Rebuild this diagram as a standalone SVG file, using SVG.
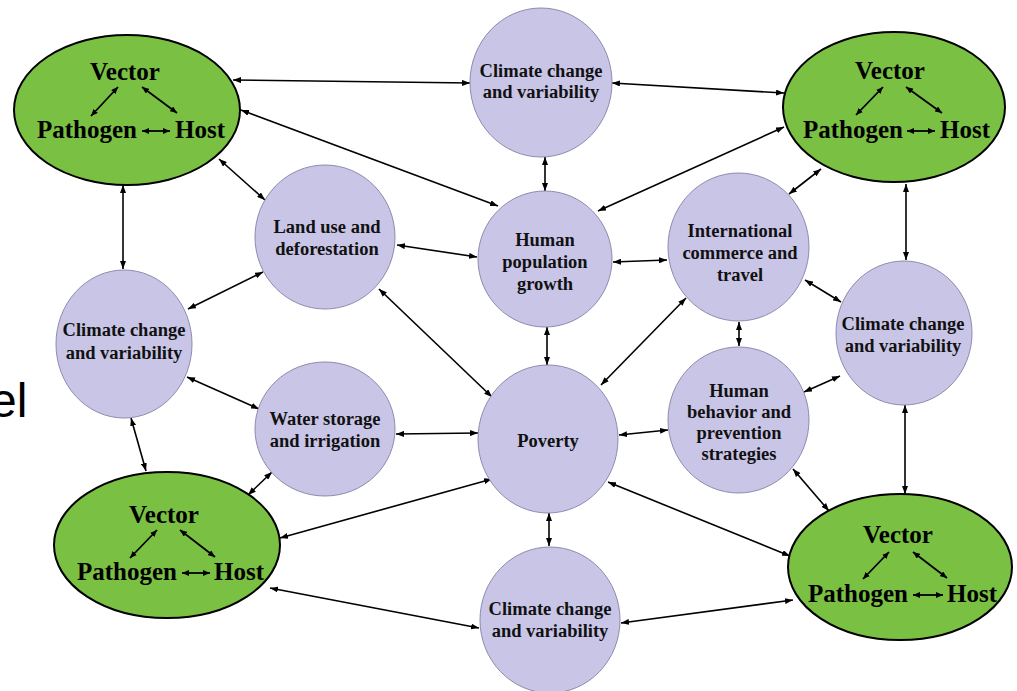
<svg xmlns="http://www.w3.org/2000/svg" width="1017" height="691" viewBox="0 0 1017 691">
<defs>
<marker id="ah" viewBox="0 0 8 6" markerUnits="userSpaceOnUse" markerWidth="8" markerHeight="6" refX="8" refY="3" orient="auto-start-reverse">
<path d="M0,0 L8,3 L0,6 z" fill="#000"/>
</marker>
<marker id="ahs" viewBox="0 0 7 6" markerUnits="userSpaceOnUse" markerWidth="7" markerHeight="6" refX="7" refY="3" orient="auto-start-reverse">
<path d="M0,0 L7,3 L0,6 z" fill="#000"/>
</marker>
</defs>
<style>
.g{fill:#7ac143;stroke:#000;stroke-width:2}
.p{fill:#c9c5e7;stroke:#8e8aae;stroke-width:1}
.gt{font-family:"Liberation Serif","Times New Roman",serif;font-weight:bold;font-size:25px;fill:#000}
.pt{font-family:"Liberation Serif","Times New Roman",serif;font-weight:bold;font-size:18.5px;fill:#111;text-anchor:middle}
.c{stroke:#000;stroke-width:1.6;fill:none;marker-start:url(#ah);marker-end:url(#ah)}
.ci{stroke:#000;stroke-width:1.8;fill:none;marker-start:url(#ahs);marker-end:url(#ahs)}
.s{font-family:"Liberation Sans",Arial,sans-serif;font-size:48px;fill:#000}
</style>
<rect width="1017" height="691" fill="#fff"/>
<text class="s" x="-10" y="417">el</text>
<g id="connectors">
<line class="c" x1="233" y1="80" x2="470" y2="83"/>
<line class="c" x1="612" y1="83" x2="784" y2="93"/>
<line class="c" x1="241" y1="110" x2="498" y2="206"/>
<line class="c" x1="219" y1="159" x2="265" y2="200"/>
<line class="c" x1="598" y1="211" x2="784" y2="127"/>
<line class="c" x1="789" y1="194" x2="821" y2="169"/>
<line class="c" x1="545" y1="157" x2="545" y2="191"/>
<line class="c" x1="397" y1="245" x2="477" y2="257"/>
<line class="c" x1="613" y1="262" x2="667" y2="260"/>
<line class="c" x1="263" y1="272" x2="188" y2="309"/>
<line class="c" x1="123" y1="185" x2="123" y2="269"/>
<line class="c" x1="187" y1="377" x2="259" y2="409"/>
<line class="c" x1="131" y1="418" x2="146" y2="471"/>
<line class="c" x1="272" y1="472" x2="248" y2="495"/>
<line class="c" x1="396" y1="434" x2="478" y2="433"/>
<line class="c" x1="547" y1="327" x2="547" y2="365"/>
<line class="c" x1="379" y1="289" x2="492" y2="397"/>
<line class="c" x1="686" y1="298" x2="601" y2="385"/>
<line class="c" x1="739" y1="322" x2="739" y2="346"/>
<line class="c" x1="805" y1="280" x2="841" y2="302"/>
<line class="c" x1="906" y1="184" x2="906" y2="260"/>
<line class="c" x1="619" y1="435" x2="668" y2="430"/>
<line class="c" x1="804" y1="392" x2="840" y2="376"/>
<line class="c" x1="905" y1="405" x2="905" y2="494"/>
<line class="c" x1="793" y1="469" x2="829" y2="511"/>
<line class="c" x1="608" y1="482" x2="790" y2="556"/>
<line class="c" x1="492" y1="479" x2="280" y2="538"/>
<line class="c" x1="549" y1="513" x2="549" y2="546"/>
<line class="c" x1="270" y1="588" x2="479" y2="628"/>
<line class="c" x1="621" y1="623" x2="793" y2="600"/>
</g>
<g id="host-tl">
<ellipse class="g" cx="127" cy="110" rx="113" ry="75"/>
<text class="gt" x="125" y="80" text-anchor="middle">Vector</text>
<text class="gt" x="137" y="138" text-anchor="end">Pathogen</text>
<text class="gt" x="175" y="138">Host</text>
<line class="ci" x1="118" y1="87" x2="91" y2="116"/>
<line class="ci" x1="142" y1="87" x2="177" y2="113"/>
<line class="ci" x1="142" y1="131" x2="170" y2="131"/>
</g>
<g id="host-tr">
<ellipse class="g" cx="894" cy="107" rx="111" ry="75"/>
<text class="gt" x="890" y="79" text-anchor="middle">Vector</text>
<text class="gt" x="903" y="138" text-anchor="end">Pathogen</text>
<text class="gt" x="940" y="138">Host</text>
<line class="ci" x1="883" y1="87" x2="856" y2="115"/>
<line class="ci" x1="906" y1="87" x2="942" y2="113"/>
<line class="ci" x1="907" y1="131" x2="935" y2="131"/>
</g>
<g id="host-bl">
<ellipse class="g" cx="167" cy="545" rx="113" ry="73"/>
<text class="gt" x="164" y="523" text-anchor="middle">Vector</text>
<text class="gt" x="177" y="580" text-anchor="end">Pathogen</text>
<text class="gt" x="214" y="580">Host</text>
<line class="ci" x1="157" y1="530" x2="130" y2="558"/>
<line class="ci" x1="180" y1="530" x2="215" y2="557"/>
<line class="ci" x1="182" y1="573" x2="210" y2="573"/>
</g>
<g id="host-br">
<ellipse class="g" cx="900" cy="567" rx="112" ry="73"/>
<text class="gt" x="898" y="543" text-anchor="middle">Vector</text>
<text class="gt" x="908" y="602" text-anchor="end">Pathogen</text>
<text class="gt" x="947" y="602">Host</text>
<line class="ci" x1="889" y1="552" x2="863" y2="579"/>
<line class="ci" x1="913" y1="552" x2="947" y2="578"/>
<line class="ci" x1="913" y1="595" x2="943" y2="595"/>
</g>
<g id="climate-top">
<ellipse class="p" cx="541" cy="82.5" rx="71" ry="74.5"/>
<text class="pt" x="541" y="77">Climate change</text>
<text class="pt" x="541" y="98">and variability</text>
</g>
<g id="land-use">
<ellipse class="p" cx="325" cy="237" rx="70" ry="72"/>
<text class="pt" x="327" y="233">Land use and</text>
<text class="pt" x="327" y="255">deforestation</text>
</g>
<g id="human-population">
<ellipse class="p" cx="545" cy="259" rx="67" ry="68"/>
<text class="pt" x="545" y="246">Human</text>
<text class="pt" x="545" y="268">population</text>
<text class="pt" x="545" y="290">growth</text>
</g>
<g id="international">
<ellipse class="p" cx="738.5" cy="247" rx="70.5" ry="74"/>
<text class="pt" x="740" y="237">International</text>
<text class="pt" x="740" y="259">commerce and</text>
<text class="pt" x="740" y="281">travel</text>
</g>
<g id="climate-left">
<ellipse class="p" cx="124" cy="344" rx="68" ry="74"/>
<text class="pt" x="124" y="336">Climate change</text>
<text class="pt" x="124" y="359">and variability</text>
</g>
<g id="climate-right">
<ellipse class="p" cx="904" cy="333" rx="68" ry="72"/>
<text class="pt" x="903" y="330">Climate change</text>
<text class="pt" x="903" y="352">and variability</text>
</g>
<g id="water-storage">
<ellipse class="p" cx="325" cy="429" rx="70" ry="67"/>
<text class="pt" x="325" y="425">Water storage</text>
<text class="pt" x="325" y="447">and irrigation</text>
</g>
<g id="poverty">
<ellipse class="p" cx="548" cy="439" rx="70" ry="74"/>
<text class="pt" x="548" y="447">Poverty</text>
</g>
<g id="human-behavior">
<ellipse class="p" cx="738.5" cy="420" rx="70.5" ry="73"/>
<text class="pt" x="739" y="397">Human</text>
<text class="pt" x="739" y="418">behavior and</text>
<text class="pt" x="739" y="439">prevention</text>
<text class="pt" x="739" y="460">strategies</text>
</g>
<g id="climate-bottom">
<ellipse class="p" cx="550" cy="620" rx="70" ry="73"/>
<text class="pt" x="550" y="615">Climate change</text>
<text class="pt" x="550" y="637">and variability</text>
</g>
</svg>
